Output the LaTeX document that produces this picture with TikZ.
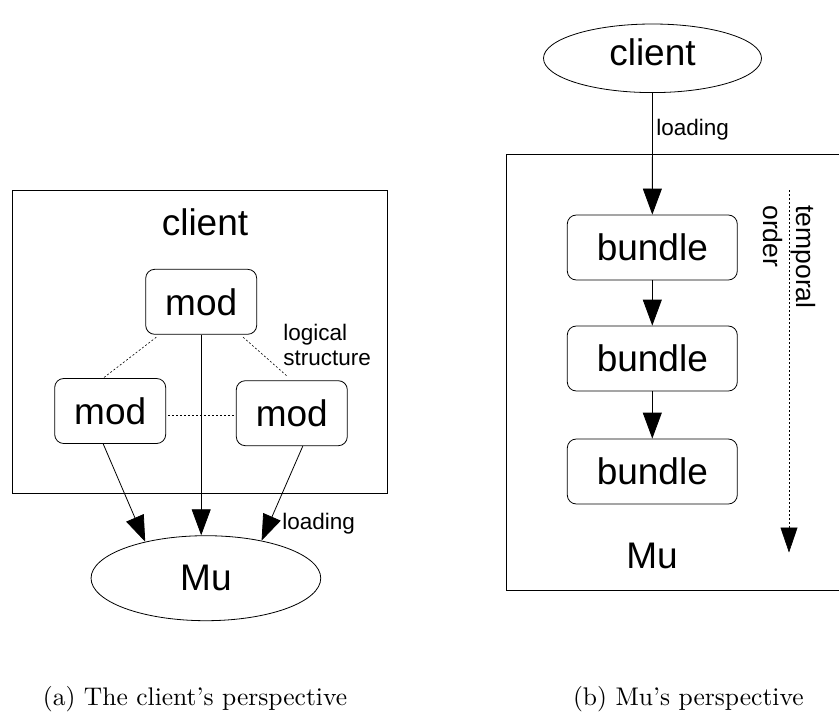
\documentclass[tikz,border=0pt]{standalone}
\usepackage{fontspec}
\setsansfont{Liberation Sans}
\newfontfamily\capfont{lmroman10-regular}[Extension=.otf, Ligatures=TeX]
\usetikzlibrary{arrows.meta,shapes.geometric,calc}

\begin{document}
\begin{tikzpicture}[x=1pt,y=-1pt,
  line width=0.8pt,
  lbl/.style={font=\sffamily\fontsize{37}{44}\selectfont},
  small/.style={font=\sffamily\fontsize{22.5}{26}\selectfont, inner sep=0pt},
  tsmall/.style={font=\sffamily\fontsize{26.5}{32}\selectfont, inner sep=0pt},
  box/.style={draw, rounded corners=9pt, lbl, inner sep=0pt},
  modbox/.style={box, minimum width=111pt, minimum height=65pt},
  bundlebox/.style={box, minimum width=170pt, minimum height=65pt},
  oval/.style={draw, ellipse, lbl, inner sep=0pt},
  link/.style={dash pattern=on 2pt off 2pt, line width=0.6pt},
  load/.style={-{Triangle[length=26pt,width=19pt]}},
  caption/.style={font=\capfont\fontsize{25.5}{30}\selectfont, inner sep=0pt}
]
\useasboundingbox (0,0) rectangle (839,720);

% ---------- (a) the client's view ----------
\draw (12.7,190.7) rectangle (387.7,493.3);
\node[lbl, anchor=base, inner sep=0pt] (ctitle) at (205,235) {client};

\node[modbox] (tmod) at (201.2,301.8) {mod};
\node[modbox] (lmod) at (110.2,411) {mod};
\node[modbox] (rmod) at (291.8,413.2) {mod};

\node[oval, minimum width=229.7pt, minimum height=85pt] (mu) at (205.9,578.2) {Mu};

% logical structure between modules
\draw[link] ($(tmod.south west)+(11,2.5)$) -- ($(lmod.north)+(-7,0)$);
\draw[link] ($(tmod.south east)+(-14,2.5)$) -- ($(rmod.north)+(-4,-3.5)$);
\draw[link] ($(lmod.east)+(2,4)$) -- ($(rmod.west)+(0,1.8)$);
\node[small, anchor=base west] (lg1) at (283,340) {logical};
\node[small, anchor=base west] (lg2) at (283,365) {structure};

% loading into Mu
\draw[load] ($(lmod.south)+(-7,0)$) -- (mu.149);
\draw[load] (tmod.south) -- (tmod.south |- mu.north);
\draw[load] ($(rmod.south)+(11,0)$) -- (mu.34);
\node[small, anchor=base west] (lload) at (282,529.5) {loading};

% ---------- (b) Mu's view ----------
\draw (839,154.3) -- (506.7,154.3) -- (506.7,590.3) -- (839,590.3);

\node[oval, minimum width=218pt, minimum height=68.6pt, text depth=13pt] (cl) at (652.5,58.3) {client};

\node[bundlebox] (b1) at (652.3,247.5) {bundle};
\node[bundlebox] (b2) at (652.3,358.5) {bundle};
\node[bundlebox] (b3) at (652.3,471.5) {bundle};

\draw[load] (cl) -- (b1);
\draw[load] (b1) -- (b2);
\draw[load] (b2) -- (b3);
\node[small, anchor=base west] (rload) at (656,135) {loading};

\node[lbl, anchor=base, inner sep=0pt] (mutxt) at (652,568) {Mu};

% temporal order
\coordinate (tstart) at (789,190);
\coordinate (tend) at (789,552.5);
\draw[link, -{Triangle[length=25pt,width=17pt]}] (tstart) -- (tend);
\node[tsmall, rotate=-90, anchor=base west] (ttemp) at (796.7,205) {temporal};
\node[tsmall, rotate=-90, anchor=base west] (tord) at (763.3,205) {order};

% ---------- captions ----------
\node[caption, anchor=base] (capa) at (195,705.7) {(a) The client's perspective};
\node[caption, anchor=base] (capb) at (688.3,705.7) {(b) Mu's perspective};
\end{tikzpicture}
\end{document}
